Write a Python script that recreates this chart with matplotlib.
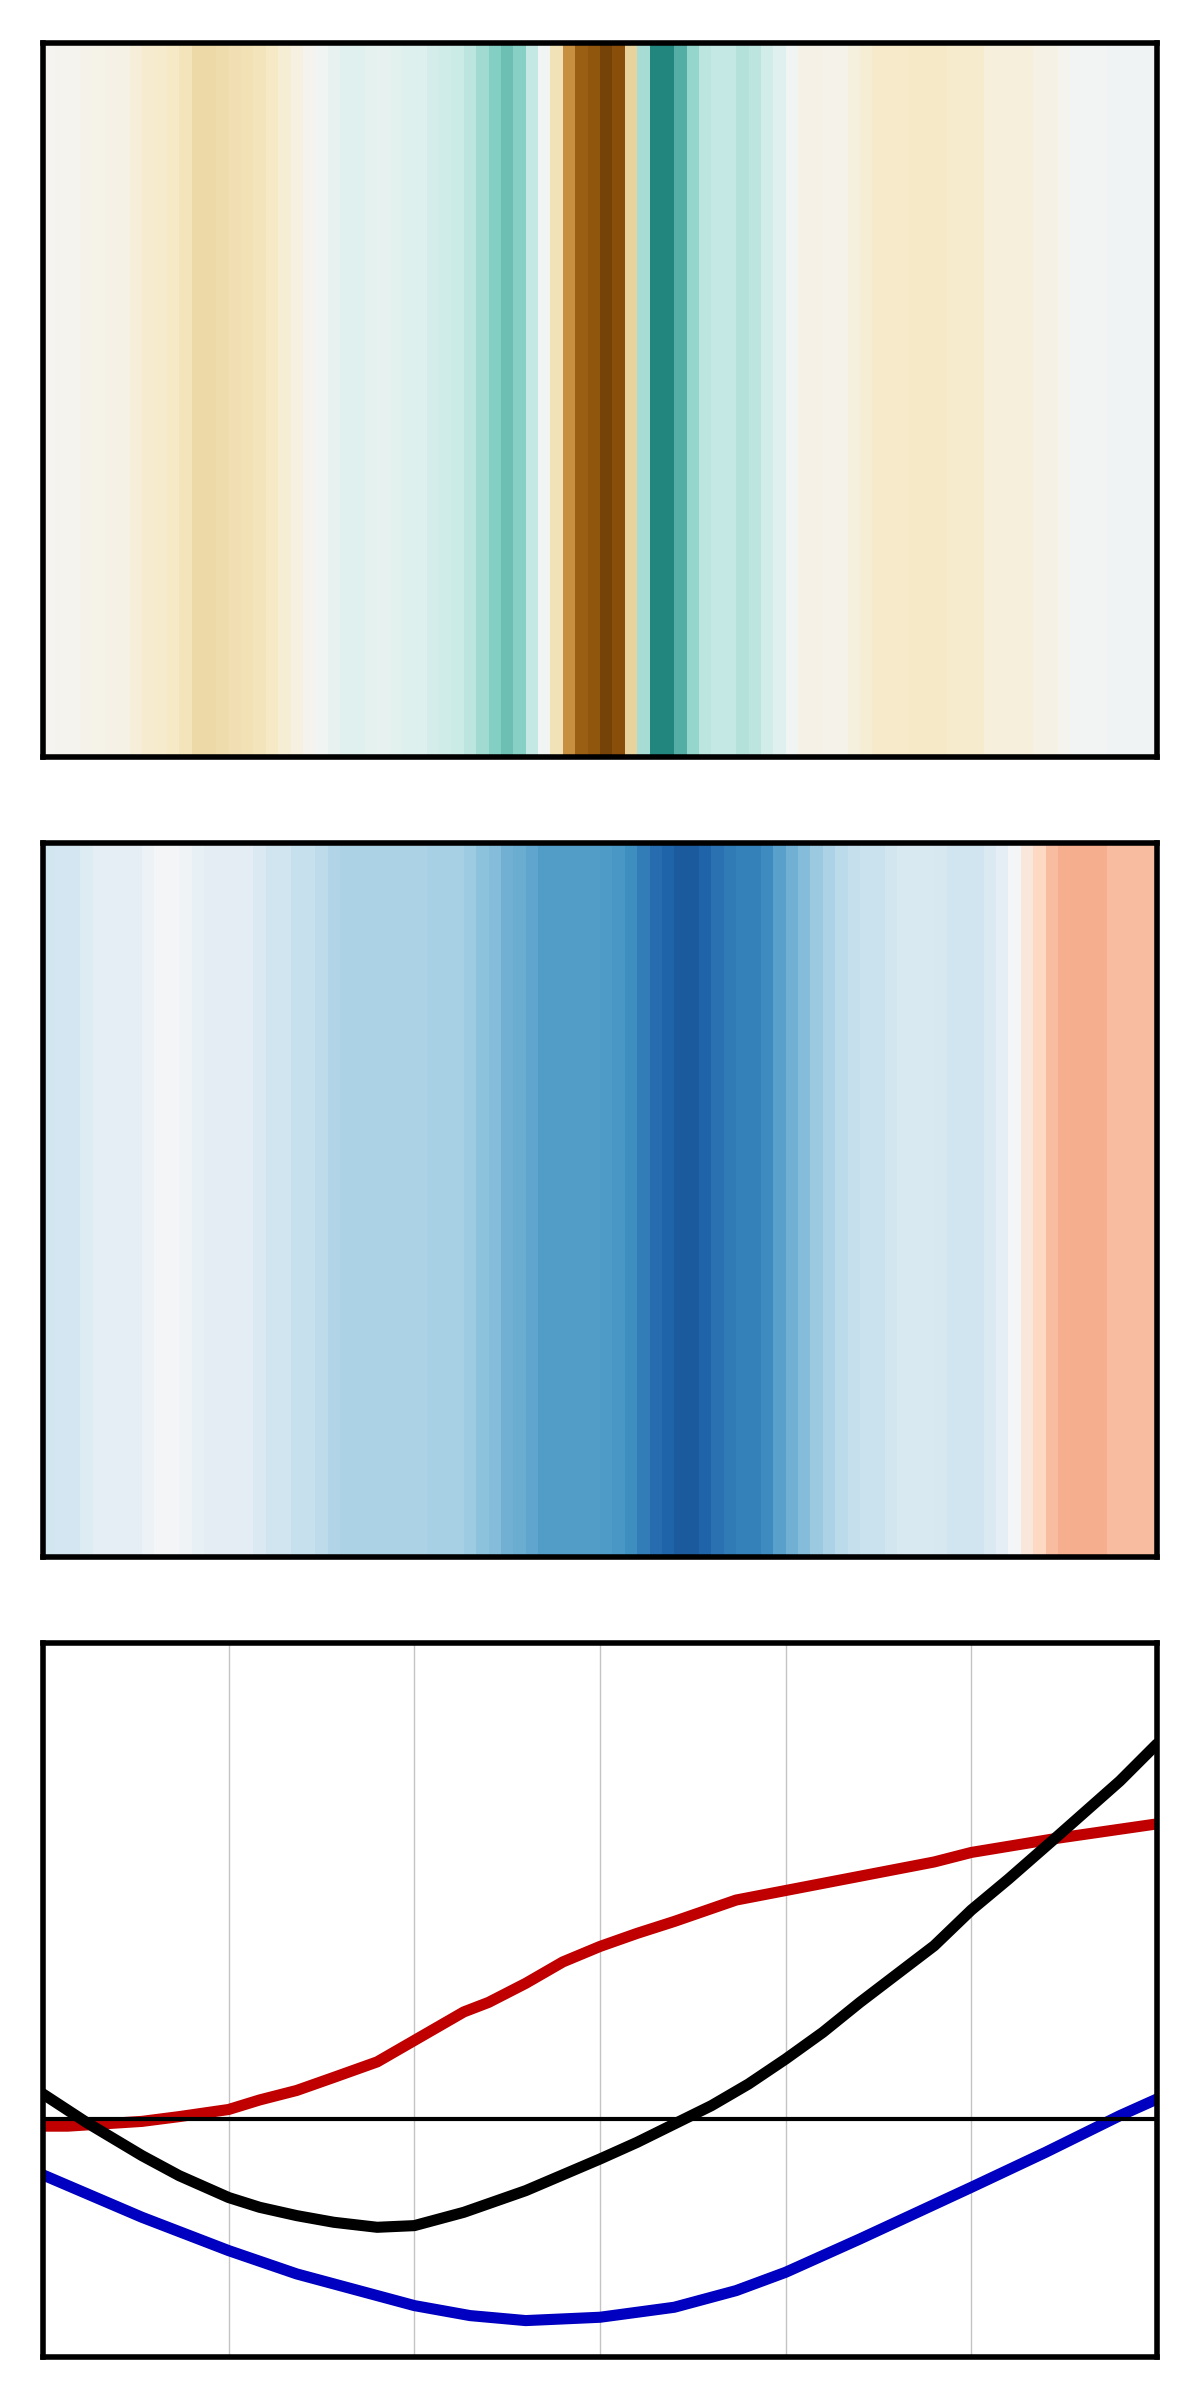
#!/usr/bin/env python3
import numpy as np
import matplotlib
matplotlib.use('Agg')  # Use non-interactive backend
import matplotlib.pyplot as plt

# Stripe years (one stripe per year, drawn from year to year + 1)
years = np.arange(1930, 2020)

# Top stripes (BrBG), anomaly values
brbg_values = [
    -0.02, -0.03, -0.03, -0.04, -0.05, -0.06, -0.07,
    -0.11, -0.15, -0.16, -0.19, -0.22,
    -0.28, -0.28, -0.26, -0.25, -0.24, -0.22, -0.19, -0.13, -0.08,
    -0.03, 0.02, 0.065, 0.09, 0.09, 0.075, 0.07, 0.08, 0.095, 0.10, 0.135, 0.16, 0.187,
    0.23, 0.31, 0.39, 0.45, 0.38, 0.21, 0.02, -0.23, -0.55, -0.74, -0.78, -0.88, -0.81, -0.31,
    0.29, 0.67, 0.67, 0.51, 0.34, 0.23, 0.21, 0.21, 0.25, 0.23, 0.15, 0.09, 0.02,
    -0.06, -0.06, -0.04, -0.04, -0.09, -0.13, -0.17, -0.17, -0.17, -0.18, -0.18, -0.18,
    -0.16, -0.16, -0.16,
    -0.10, -0.10, -0.10, -0.10, -0.07, -0.07, -0.03, 0.01, 0.01, 0.01, 0.03, 0.03, 0.03, 0.03,
]

# Middle stripes (RdBu_r)
rdbu_values = [
    -0.19, -0.185, -0.18, -0.14,
    -0.10, -0.10, -0.10, -0.10,
    -0.058, -0.02, -0.02, -0.04, -0.08,
    -0.105, -0.105, -0.105, -0.105,
    -0.15, -0.20, -0.20, -0.23, -0.23, -0.26, -0.30,
    -0.32, -0.32, -0.32, -0.32, -0.32, -0.32, -0.32,
    -0.33, -0.33, -0.33, -0.36, -0.41, -0.43, -0.48, -0.50, -0.53,
    -0.56, -0.56, -0.56, -0.56, -0.56, -0.57, -0.58,
    -0.62, -0.70, -0.77, -0.81, -0.84, -0.84, -0.81, -0.75, -0.71, -0.68, -0.68, -0.63,
    -0.54, -0.48, -0.43, -0.37, -0.32, -0.27, -0.24, -0.22, -0.22, -0.195,
    -0.16, -0.16, -0.16, -0.17, -0.20, -0.20, -0.20, -0.15, -0.095, -0.02,
    0.11, 0.21, 0.31, 0.36, 0.36, 0.36, 0.36, 0.31, 0.31, 0.31, 0.31,
]

# Bottom panel: three smoothed curves
red_years = [1930, 1932, 1935, 1938, 1941, 1945, 1947.5, 1950.5, 1953.5, 1957, 1960,
             1964, 1966, 1969, 1972, 1975, 1978, 1981, 1986, 1990, 1996, 2002, 2005,
             2012, 2020]
red_values = [-0.03, -0.03, -0.02, -0.01, 0.01, 0.04, 0.08, 0.12, 0.175, 0.24, 0.33,
              0.45, 0.49, 0.57, 0.66, 0.725, 0.78, 0.83, 0.92, 0.96, 1.02, 1.08, 1.12,
              1.18, 1.24]

black_years = [1930, 1933.5, 1938, 1941, 1945, 1947.5, 1950.5, 1953.5, 1957, 1960, 1964,
               1969, 1975, 1978, 1981, 1984, 1987, 1990, 1993, 1996, 1999, 2002, 2005,
               2008, 2012, 2017, 2020]
black_values = [0.105, -0.014, -0.154, -0.238, -0.33, -0.371, -0.406, -0.434, -0.455,
                -0.448, -0.392, -0.301, -0.168, -0.098, -0.021, 0.056, 0.147, 0.252,
                0.364, 0.49, 0.609, 0.728, 0.878, 1.008, 1.19, 1.42, 1.576]

blue_years = [1930, 1938, 1945, 1950.5, 1957, 1960, 1964.5, 1969, 1975, 1981, 1986,
              1990, 1996, 2005, 2011, 2017, 2020]
blue_values = [-0.235, -0.413, -0.553, -0.651, -0.742, -0.784, -0.826, -0.847, -0.833,
               -0.791, -0.721, -0.644, -0.504, -0.287, -0.14, 0.014, 0.084]

grid_years = [1945, 1960, 1975, 1990, 2005]

fig, axes = plt.subplots(3, 1, figsize=(6, 12), dpi=200)
fig.subplots_adjust(left=43 / 1200, right=1 - 43 / 1200,
                    top=1 - 43 / 2400, bottom=43 / 2400, hspace=86 / 714)

edges = np.append(years, years[-1] + 1)

# Stripe panels
for ax, vals, cmap in [(axes[0], brbg_values, 'BrBG'), (axes[1], rdbu_values, 'RdBu_r')]:
    ax.pcolormesh(edges, [0, 1], np.array(vals)[np.newaxis, :], cmap=cmap,
                  vmin=-1, vmax=1, shading='flat')
    ax.set_xlim(edges[0], edges[-1])
    ax.set_ylim(0, 1)
    ax.set_xticks([])
    ax.set_yticks([])

# Line panel
ax = axes[2]
line_kw = dict(lw=4, zorder=2, solid_joinstyle='round', solid_capstyle='round')
ax.plot(red_years, red_values, color='#c00000', **line_kw)
ax.plot(black_years, black_values, color='black', **line_kw)
ax.plot(blue_years, blue_values, color='#0000c0', **line_kw)
ax.axhline(0, color='black', lw=1.5, zorder=3)
ax.set_xlim(edges[0], edges[-1])
ax.set_ylim(-1, 2)
ax.set_xticks(grid_years)
ax.set_yticks([])
ax.grid(axis='x', color='#c4c4c4', lw=0.5, zorder=0)
ax.tick_params(axis='both', length=0, labelbottom=False, labelleft=False)

for a in axes:
    for s in a.spines.values():
        s.set_linewidth(2)
        s.set_color('black')
        s.set_zorder(10)

plt.savefig('out.png', dpi=200)
